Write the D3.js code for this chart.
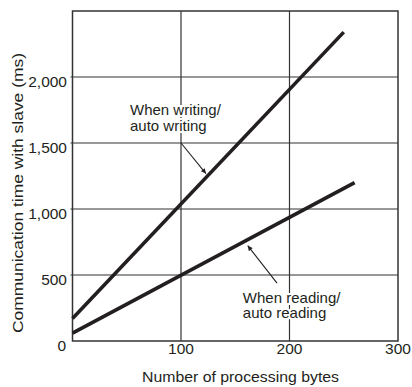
<!DOCTYPE html>
<html lang="en">
<head>
<meta charset="utf-8">
<script src="https://d3js.org/d3.v7.min.js"></script>
<style>
  body { margin: 0; background: #fff; }
  text { font-family: "Liberation Sans", Arial, Helvetica, sans-serif; fill: #231f20; }
</style>
</head>
<body>
<div id="chart"></div>
<script>
// chart data (bytes vs communication time in ms)
const series = ["writing", "reading"];
const writingBytes = [0, 250];
const writingTime = [170, 2340];
const readingBytes = [0, 260];
const readingTime = [60, 1200];

const xTicks = [100, 200, 300];
const yTicks = [500, 1000, 1500, 2000];
const yTickLabels = ["500", "1,000", "1,500", "2,000"];

// annotation texts and arrows (in data units)
const writingLabel = ["When writing/", "auto writing"];
const writingLabelAt = [53, 1712];
const writingArrow = [[100, 1500], [123, 1268]];
const readingLabel = ["When reading/", "auto reading"];
const readingLabelAt = [157, 288];
const readingArrow = [[188.5, 439], [161.5, 722]];

const W = 412, H = 387;
const ink = "#231f20";

const svg = d3.select("#chart").append("svg")
  .attr("width", W).attr("height", H);

const x = d3.scaleLinear().domain([0, 300]).range([72.5, 398]);
const y = d3.scaleLinear().domain([0, 2500]).range([341, 11]);

// grid lines
svg.append("g").selectAll("line.h")
  .data(yTicks).enter().append("line")
  .attr("x1", x(0) - 2).attr("x2", x(300))
  .attr("y1", d => y(d)).attr("y2", d => y(d))
  .attr("stroke", "#333").attr("stroke-width", 1.2);

svg.append("g").selectAll("line.v")
  .data(xTicks.slice(0, 2)).enter().append("line")
  .attr("x1", d => x(d)).attr("x2", d => x(d))
  .attr("y1", y(0)).attr("y2", y(2500))
  .attr("stroke", "#333").attr("stroke-width", 1.2);

// frame
svg.append("rect")
  .attr("x", x(0)).attr("y", y(2500))
  .attr("width", x(300) - x(0)).attr("height", y(0) - y(2500))
  .attr("fill", "none").attr("stroke", "#333").attr("stroke-width", 1.5);

// y tick labels
svg.append("g").selectAll("text")
  .data(yTicks).enter().append("text")
  .attr("x", 67).attr("y", d => y(d) + 10)
  .attr("text-anchor", "end").attr("font-size", 15.5)
  .text((d, i) => yTickLabels[i]);

svg.append("text").attr("x", 66).attr("y", y(0) + 10)
  .attr("text-anchor", "end").attr("font-size", 15.5).text("0");

// x tick labels
svg.append("g").selectAll("text")
  .data(xTicks).enter().append("text")
  .attr("x", d => x(d)).attr("y", y(0) + 13)
  .attr("text-anchor", "middle").attr("font-size", 15.5)
  .text(d => d);

// axis titles
svg.append("text")
  .attr("x", 240.5).attr("y", 382)
  .attr("text-anchor", "middle").attr("font-size", 15.5)
  .attr("textLength", 197).attr("lengthAdjust", "spacingAndGlyphs")
  .text("Number of processing bytes");

svg.append("text")
  .attr("transform", "translate(23,193) rotate(-90)")
  .attr("text-anchor", "middle").attr("font-size", 15.5)
  .attr("textLength", 280).attr("lengthAdjust", "spacingAndGlyphs")
  .text("Communication time with slave (ms)");

// data lines
const line = d3.line().x(d => x(d[0])).y(d => y(d[1]));
const lines = [
  d3.zip(writingBytes, writingTime),
  d3.zip(readingBytes, readingTime)
];
svg.append("g").selectAll("path")
  .data(lines).enter().append("path")
  .attr("d", line)
  .attr("fill", "none").attr("stroke", ink).attr("stroke-width", 3.6);

// arrows
svg.append("defs").append("marker")
  .attr("id", "head").attr("viewBox", "0 0 10 10")
  .attr("refX", 10).attr("refY", 5)
  .attr("markerWidth", 9).attr("markerHeight", 5)
  .attr("markerUnits", "userSpaceOnUse")
  .attr("orient", "auto")
  .append("path").attr("d", "M0,0L10,5L0,10Z").attr("fill", ink);

[writingArrow, readingArrow].forEach(a => {
  svg.append("line")
    .attr("x1", x(a[0][0])).attr("y1", y(a[0][1]))
    .attr("x2", x(a[1][0])).attr("y2", y(a[1][1]))
    .attr("stroke", ink).attr("stroke-width", 1.1)
    .attr("marker-end", "url(#head)");
});

// annotation labels, with white halo over grid
function label(rows, at) {
  rows.forEach((s, i) => {
    svg.append("text")
      .attr("x", x(at[0])).attr("y", y(at[1]) + i * 15.5)
      .attr("font-size", 15)
      .attr("stroke", "#fff").attr("stroke-width", 4)
      .attr("paint-order", "stroke").text(s);
  });
}
label(writingLabel, writingLabelAt);
label(readingLabel, readingLabelAt);
</script>
</body>
</html>
